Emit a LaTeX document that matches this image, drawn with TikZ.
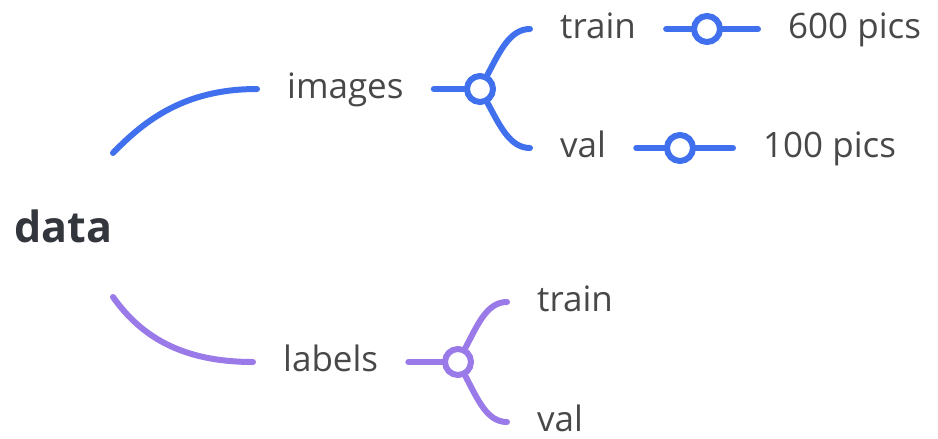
\documentclass[tikz,border=0pt]{standalone}
\usepackage{fontspec}
\setmainfont{Open Sans}
\definecolor{mapblue}{RGB}{64,112,238}
\definecolor{mappurple}{RGB}{153,122,232}
\definecolor{maptext}{RGB}{72,72,72}
\definecolor{maproot}{RGB}{51,54,60}

\begin{document}
\fontsize{35}{40}\selectfont
\begin{tikzpicture}[x=1pt,y=-1pt,
    branch/.style={line width=6pt,line cap=round},
    topic/.style={anchor=mid west,inner xsep=30pt,inner ysep=0pt,text=maptext},
    hub/.style={circle,draw=#1,fill=white,line width=6pt,minimum size=26pt,inner sep=0pt}]
  \useasboundingbox (0,0) rectangle (938,439);

  \node[anchor=base west,inner sep=0pt,text=maproot,
    font=\fontsize{43}{48}\selectfont\bfseries] (data) at (14,242) {data};
  \coordinate (dataup) at (113,153);
  \coordinate (datadown) at (113,297);

  % images
  \node[topic] (images) at (257,89) {images};
  \node[hub=mapblue] (imghub) at (480,89) {};
  \node[topic] (imgtrain) at (530,29) {train};
  \node[topic] (imgval) at (530,148) {val};
  \node[hub=mapblue] (trainhub) at (707,29) {};
  \node[topic] (trainpics) at (758,29) {600 pics};
  \node[hub=mapblue] (valhub) at (680,148) {};
  \node[topic] (valpics) at (733,148) {100 pics};

  \draw[branch,mapblue] (dataup) .. controls (145,120) and (185,89) .. (images.mid west);
  \draw[branch,mapblue] (images.mid east) -- (imghub);
  \draw[branch,mapblue] (imghub) .. controls (500,51) and (510,29) .. (imgtrain.mid west);
  \draw[branch,mapblue] (imghub) .. controls (500,126) and (510,148) .. (imgval.mid west);
  \draw[branch,mapblue] (imgtrain.mid east) -- (trainhub) -- (trainpics.mid west);
  \draw[branch,mapblue] (imgval.mid east) -- (valhub) -- (valpics.mid west);

  % labels
  \node[topic] (labels) at (253,362) {labels};
  \node[hub=mappurple] (lblhub) at (458,362) {};
  \node[topic] (lbltrain) at (507,302) {train};
  \node[topic] (lblval) at (507,422) {val};

  \draw[branch,mappurple] (datadown) .. controls (140,335) and (180,362) .. (labels.mid west);
  \draw[branch,mappurple] (labels.mid east) -- (lblhub);
  \draw[branch,mappurple] (lblhub) .. controls (478,324) and (487,302) .. (lbltrain.mid west);
  \draw[branch,mappurple] (lblhub) .. controls (478,400) and (487,422) .. (lblval.mid west);
\end{tikzpicture}
\end{document}
